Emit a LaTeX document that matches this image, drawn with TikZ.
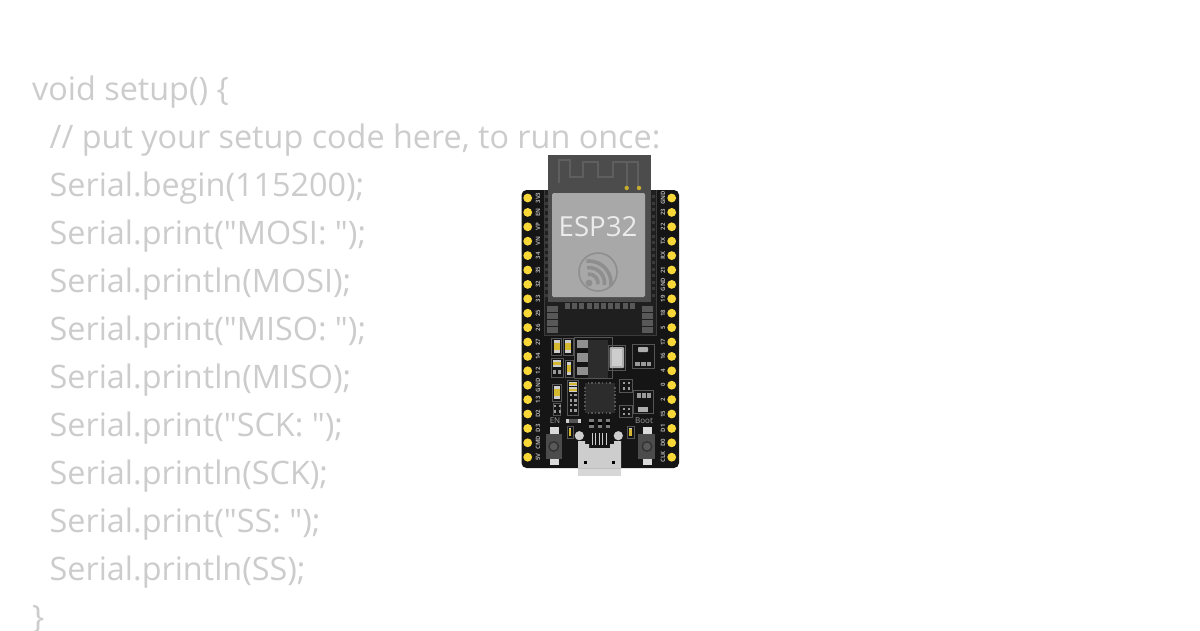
\documentclass[tikz,border=0pt]{standalone}
\usepackage{fontspec}
\setmainfont{Open Sans}[Ligatures=TeXOff]
\definecolor{codec}{HTML}{CCCCCC}
\definecolor{pcb}{HTML}{151515}
\definecolor{zone}{HTML}{1F1F1F}
\definecolor{chipc}{HTML}{2C2C2C}
\definecolor{frame}{HTML}{4C4C4C}
\definecolor{shield}{HTML}{A8A8A8}
\definecolor{logoc}{HTML}{8E8E8E}
\definecolor{pinc}{HTML}{F8D838}
\definecolor{padc}{HTML}{585858}
\definecolor{antc}{HTML}{5F5F5F}
\definecolor{metal}{HTML}{CDCDCD}
\definecolor{silk}{HTML}{555555}
\definecolor{lab}{HTML}{ABABAB}
\definecolor{silkt}{HTML}{A0A0A0}
\newcommand{\bx}[5]{\fill[#1] (#2,#3) rectangle (#4,#5);}
\newcommand{\ol}[4]{\draw[silk,line width=.6pt] (#1,#2) rectangle (#3,#4);}
% vertical small part: outline, caps, yellow body
\newcommand{\vpart}[4]{\ol{#1}{#2}{#3}{#4}
  \bx{metal}{\fpeval{#1+1.8}}{\fpeval{#2+1.8}}{\fpeval{#3-1.8}}{\fpeval{#4-1.8}}
  \bx{pinc!85!black}{\fpeval{#1+1.8}}{\fpeval{(#2+#4)/2-3.5}}{\fpeval{#3-1.8}}{\fpeval{(#2+#4)/2+3.5}}}
\newcommand{\fourdots}[2]{\foreach \dx in {0,4.6}\foreach \dy in {0,5.2}{\bx{metal!75!black}{\fpeval{#1+\dx}}{\fpeval{#2+\dy}}{\fpeval{#1+\dx+2.4}}{\fpeval{#2+\dy+2.4}}}}
\tikzset{
  code/.style={anchor=base west,inner sep=0pt,text=codec,font=\fontsize{32.35}{32}\selectfont},
  pinlab/.style={rotate=90,inner sep=0pt,text=lab,font=\fontsize{6}{6}\selectfont\bfseries},
  silktxt/.style={inner sep=0pt,text=silkt,font=\fontsize{8}{8}\selectfont},
  pin/.style={fill=pinc},
  antenna/.style={draw=antc,line width=1.6pt},
  logoarc/.style={draw=logoc,line width=3.6pt}
}
\begin{document}
\begin{tikzpicture}[x=1pt,y=-1pt]
\useasboundingbox (0,0) rectangle (1200,630);
\fill[white] (0,0) rectangle (1200,630);
% code text
\node[code] (c1) at (32,100) {void setup() \{};
\node[code] (c2) at (49.5,148) {// put your setup code here, to run once:};
\node[code] (c3) at (49.5,196) {Serial.begin(115200);};
\node[code] (c4) at (49.5,244) {Serial.print("MOSI: ");};
\node[code] (c5) at (49.5,292) {Serial.println(MOSI);};
\node[code] (c6) at (49.5,340) {Serial.print("MISO: ");};
\node[code] (c7) at (49.5,388) {Serial.println(MISO);};
\node[code] (c8) at (49.5,436) {Serial.print("SCK: ");};
\node[code] (c9) at (49.5,484) {Serial.println(SCK);};
\node[code] (c10) at (49.5,532) {Serial.print("SS: ");};
\node[code] (c11) at (49.5,580) {Serial.println(SS);};
\node[code] (c12) at (32,628) {\}};
% USB lower strip (under the board)
\bx{metal!80!white}{578}{465}{621}{476}
% board
\fill[pcb,rounded corners=5pt] (521.5,190) rectangle (679,468);
% pins
\foreach \t [count=\i from 0] in {3V3,EN,VP,VN,34,35,32,33,25,26,27,14,12,GND,13,D2,D3,CMD,5V}{
  \fill[pin] (527.7,198+14.4*\i) circle (4.4);
  \node[pinlab] (ll\i) at (538,198+14.4*\i) {\t};
}
\foreach \t [count=\i from 0] in {GND,23,22,TX,RX,21,GND,19,18,5,17,16,4,0,2,15,D1,D0,CLK}{
  \fill[pin] (671.7,198+14.4*\i) circle (4.4);
  \node[pinlab] (rl\i) at (663,198+14.4*\i) {\t};
}
% module zone
\bx{zone}{544}{190}{656}{335}
\draw[silk!70!black,line width=.6pt] (544,190) -- (544,335) -- (656,335) -- (656,190);
\foreach \i in {0,...,15}{
  \bx{silk!70!black}{545}{\fpeval{195+6.6*\i}}{548}{\fpeval{198+6.6*\i}}
  \bx{silk!70!black}{652}{\fpeval{195+6.6*\i}}{655}{\fpeval{198+6.6*\i}}
}
% metal can and antenna
\bx{frame}{548}{155}{651}{302}
\draw[antenna] (559,183) -- (559,160) -- (570,160) -- (570,177) -- (583,177) -- (583,162) -- (598,162) -- (598,177) -- (613,177) -- (613,162) -- (638,162) -- (638,188);
\draw[antenna] (627,162) -- (627,186);
\fill[pinc!80!black] (626.7,188) circle (2.2);
\fill[pinc!80!black] (639,188) circle (2.2);
\fill[shield,rounded corners=1.5pt] (552,193) rectangle (645,297);
\node[inner sep=0pt,text=white!92!black,font=\fontsize{27.6}{27}\selectfont] (esp) at (598,227) {ESP32};
% logo
\draw[logoc,line width=1.6pt] (598,272) circle (19);
\fill[logoc] (589,283) circle (3.4);
\foreach \r in {9,15.5,22}{
  \draw[logoarc] (589,283) ++(-97:\r) arc[start angle=-97,end angle=8,radius=\r];
}
% pads below can
\foreach \i in {0,...,9}{ \bx{padc}{\fpeval{565+7.2*\i}}{302.7}{\fpeval{570+7.2*\i}}{308.7} }
\foreach \i in {0,...,3}{
  \bx{padc}{546.5}{\fpeval{306+7*\i}}{558}{\fpeval{312+7*\i}}
  \bx{padc}{642}{\fpeval{306+7*\i}}{653}{\fpeval{312+7*\i}}
}
% upper-left passives
\vpart{551.7}{338}{561.7}{355}
\vpart{563}{338}{573}{355}
\vpart{565}{360}{573}{377}
\vpart{552}{384}{561.5}{401}
\ol{551}{358}{563}{377}
\bx{metal}{553}{360}{561}{367}
\bx{pinc!85!black}{553}{361.5}{561}{365}
\bx{metal!75!black}{553}{370}{556}{374}
\bx{metal!75!black}{558}{370}{561}{374}
% regulator
\ol{574}{337}{612}{378}
\bx{metal!70!black}{576.5}{340}{588}{348}
\bx{metal!70!black}{576.5}{353}{588}{362}
\bx{metal!70!black}{576.5}{367}{588}{375}
\bx{chipc}{588}{340}{608}{378}
% connector
\ol{608}{345}{625}{370}
\fill[metal!85!black,rounded corners=1pt] (609.5,347) rectangle (624,368);
\bx{metal}{612}{349}{622}{366}
% SOT upper right
\ol{632}{344}{654}{368}
\fill[metal!85!black,rounded corners=.8pt] (638,347) rectangle (648,352);
\bx{metal!75!black}{635}{362}{640}{366}
\bx{metal!75!black}{641}{362}{645.5}{366}
\bx{metal!75!black}{647}{362}{651}{366}
% QFN
\fill[chipc] (585,383) rectangle (615,413);
\foreach \i in {0,...,6}{
  \bx{chipc!80!white}{\fpeval{587.5+3.6*\i}}{382}{\fpeval{589+3.6*\i}}{384}
  \bx{chipc!80!white}{\fpeval{587.5+3.6*\i}}{412}{\fpeval{589+3.6*\i}}{414}
  \bx{chipc!80!white}{584}{\fpeval{387+3.6*\i}}{586}{\fpeval{388.5+3.6*\i}}
  \bx{chipc!80!white}{614}{\fpeval{387+3.6*\i}}{616}{\fpeval{388.5+3.6*\i}}
}
% resistor array
\ol{567}{380}{578}{415}
\bx{metal}{568.5}{381.5}{576.5}{386}
\bx{pinc!85!black}{568.5}{383}{576.5}{385}
\bx{metal}{568.5}{387}{576.5}{391.5}
\bx{pinc!85!black}{568.5}{388.5}{576.5}{390.5}
\fourdots{569.5}{394}
\fourdots{569.5}{404}
% small two-pair part
\ol{553}{403}{560}{415}
\fourdots{554}{405}
% right small boxes
\ol{619.5}{379}{632}{392}
\fourdots{623}{382}
\ol{619.5}{405}{632}{417}
\fourdots{623}{407.5}
% SOT right
\ol{633}{390}{653}{413}
\bx{metal!75!black}{637}{393}{641}{398}
\bx{metal!75!black}{642}{393}{646}{398}
\bx{metal!75!black}{647}{393}{651}{398}
\fill[metal!85!black] (638,407) rectangle (647.5,412);
% silk text
\node[silktxt] (en) at (555,421) {EN};
\node[silktxt] (boot) at (644,421) {Boot};
% buttons
\bx{metal!75!white}{550}{427}{559}{434}
\bx{metal!75!white}{550}{459}{559}{465}
\bx{frame}{546}{434}{562}{459}
\fill[black!80] (553.7,446.5) circle (5.5);
\fill[black!65] (553.7,446.5) circle (3.8);
\bx{metal!75!white}{643}{427}{652}{434}
\bx{metal!75!white}{643}{459}{652}{465}
\bx{frame}{638}{434}{655}{459}
\fill[black!80] (647,446.5) circle (5.5);
\fill[black!65] (647,446.5) circle (3.8);
% small SMDs bottom
\bx{silk}{566}{419}{581}{423}
\bx{metal}{566}{419}{569}{423}
\bx{metal}{578}{419}{581}{423}
\vpart{567}{426}{573}{438}
\vpart{627.5}{426}{634}{438}
% three USB pads
\foreach \x in {589,597.5,605.5}{
  \bx{metal!60!black}{\x}{419}{\fpeval{\x+4.5}}{428}
  \bx{black}{\x}{422}{\fpeval{\x+4.5}}{425}
}
% USB
\fill[metal] (578,441) -- (585,441) -- (585,444) -- (589,444) -- (589,448) -- (610,448) -- (610,444) -- (614,444) -- (614,441) -- (621,441) -- (621,468) -- (578,468) -- cycle;
\fill[metal] (579.3,435.7) circle (4.6);
\fill[metal] (618.3,435.7) circle (4.6);
\foreach \x in {592,595.6,599.2,602.8,606.4}{
  \draw[metal,line width=.9pt] (\x,433) -- (\x,445);
}
\bx{black}{584}{461}{587}{464}
\bx{black}{612}{461}{615}{464}
\end{tikzpicture}
\end{document}
